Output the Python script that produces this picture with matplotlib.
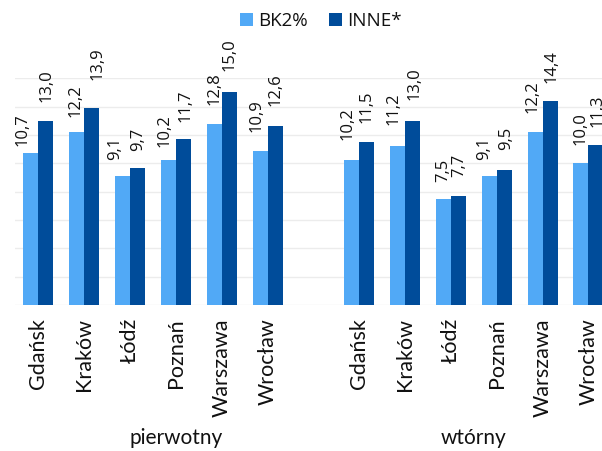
import matplotlib
matplotlib.use("Agg")
import matplotlib.pyplot as plt
from matplotlib.patches import Patch
from matplotlib.transforms import blended_transform_factory

# --- data -------------------------------------------------------------
cities = ["Gdańsk", "Kraków", "Łódź", "Poznań", "Warszawa", "Wrocław"]
markets = ["pierwotny", "wtórny"]
series_names = ["BK2%", "INNE*"]

bk2_pierwotny = [10.7, 12.2, 9.1, 10.2, 12.8, 10.9]
inne_pierwotny = [13.0, 13.9, 9.7, 11.7, 15.0, 12.6]
bk2_wtorny = [10.2, 11.2, 7.5, 9.1, 12.2, 10.0]
inne_wtorny = [11.5, 13.0, 7.7, 9.5, 14.4, 11.3]

# --- label nudges (pixels): horizontal shift and gap above the bar ----
bk2_dx = [[-8, -1, -7.5, -4, 0.5, -3.5], [-4.5, -4.5, 0, -5, -2.5, -0.5]]
bk2_gap = [[7, 15, 16, 13, 19, 19], [20, 21, 17, 16, 19, 18]]
inne_dx = [[0.5, 5.5, 0.5, 2.5, 0.5, 0.5], [0, 1.5, 0.5, 1.5, 1.5, 1.5]]
inne_gap = [[19, 28, 17, 17, 21, 20], [19, 21, 19, 20, 18, 18]]

# --- style ------------------------------------------------------------
LIGHT = "#51A9F6"
DARK = "#004C9A"
GRID = "#ECECEC"
TEXT = "#111111"
LABEL_FONT = ["Open Sans", "DejaVu Sans"]
CAT_FONT = ["Lato", "DejaVu Sans"]

W, H = 602, 451
fig = plt.figure(figsize=(W / 100, H / 100), dpi=100)

# plot area in pixels (the last slot runs past the right edge of the figure)
left_px, right_px = 15.4, 611.4
base_px, top_px = 305.0, 78.3
ax = fig.add_axes([left_px / W, (H - base_px) / H,
                   (right_px - left_px) / W, (base_px - top_px) / H])

bk2 = [bk2_pierwotny, bk2_wtorny]
inne = [inne_pierwotny, inne_wtorny]
group_start = [0, 7]          # an empty slot separates the two markets
bw = 0.327

ax.set_xlim(-0.5, 12.5)
ax.set_ylim(0, 16)
ax.set_yticks(range(0, 17, 2))
ax.yaxis.grid(True, color=GRID, linewidth=1.0)
ax.set_axisbelow(True)
for s in ax.spines.values():
    s.set_visible(False)
ax.tick_params(axis="y", length=0, labelleft=False)
ax.tick_params(axis="x", length=0, pad=9.4)

xticks, xlabels = [], []
for g in range(2):
    xs = [group_start[g] + i for i in range(len(cities))]
    ax.bar([x - bw / 2 for x in xs], bk2[g], width=bw, color=LIGHT,
           linewidth=0, zorder=2)
    ax.bar([x + bw / 2 for x in xs], inne[g], width=bw, color=DARK,
           linewidth=0, zorder=2)
    for i, x in enumerate(xs):
        for val, dx, gap, off in ((bk2[g][i], bk2_dx[g][i], bk2_gap[g][i], -bw / 2),
                                  (inne[g][i], inne_dx[g][i], inne_gap[g][i], bw / 2)):
            ax.annotate(f"{val:.1f}".replace(".", ","), xy=(x + off, val),
                        xytext=(dx, gap), textcoords="offset pixels",
                        rotation=90, ha="center", va="bottom",
                        fontsize=12, family=LABEL_FONT, color=TEXT,
                        annotation_clip=False)
    xticks += xs
    xlabels += cities

ax.set_xticks(xticks)
ax.set_xticklabels(xlabels, rotation=90, fontsize=15.5, family=CAT_FONT,
                   color=TEXT, va="top", ha="center")

# market names under the city labels
tr = blended_transform_factory(ax.transData, fig.transFigure)
group_centres = [3.0, 9.5]
for name, xc in zip(markets, group_centres):
    ax.text(xc, (H - 443.5) / H, name, transform=tr, ha="center",
            va="baseline", fontsize=15, family=CAT_FONT, color=TEXT)

# legend
handles = [Patch(facecolor=LIGHT, edgecolor="none"),
           Patch(facecolor=DARK, edgecolor="none")]
fig.legend(handles, series_names, loc="center", ncol=2, frameon=False,
           bbox_to_anchor=(321 / W, (H - 21) / H),
           prop={"family": LABEL_FONT, "size": 13.5},
           labelcolor=TEXT,
           handlelength=0.7, handleheight=0.7, handletextpad=0.3,
           columnspacing=1.1, borderaxespad=0, borderpad=0)

fig.savefig("out.png", dpi=100)
